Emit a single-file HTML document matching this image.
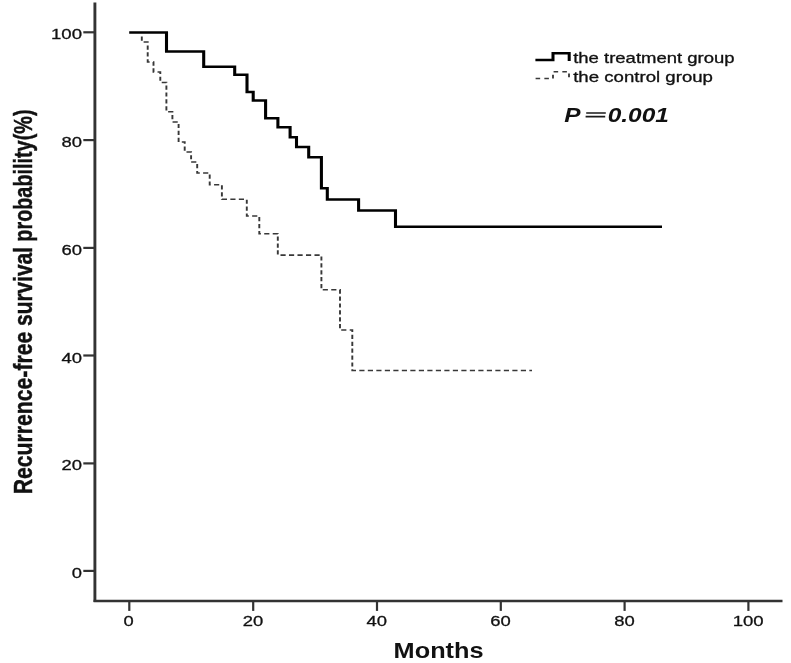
<!DOCTYPE html>
<html>
<head>
<meta charset="utf-8">
<title>Recurrence-free survival</title>
<style>
html,body{margin:0;padding:0;background:#fff;}
body{width:791px;height:663px;overflow:hidden;font-family:"Liberation Sans",sans-serif;}
svg{display:block;filter:blur(0.45px);}
text{font-family:"Liberation Sans",sans-serif;fill:#111;}
</style>
</head>
<body>
<svg width="791" height="663" viewBox="0 0 791 663">
<rect width="791" height="663" fill="#fff"/>
<!-- axes -->
<g stroke="#333" fill="none">
<line x1="94.9" y1="2.4" x2="94.9" y2="601.9" stroke-width="2.9"/>
<line x1="93.6" y1="600.9" x2="782.5" y2="600.9" stroke-width="2.5"/>
<!-- y ticks -->
<g stroke-width="2.2">
<line x1="83.3" y1="32.3" x2="94" y2="32.3"/>
<line x1="83.3" y1="140.1" x2="94" y2="140.1"/>
<line x1="83.3" y1="247.9" x2="94" y2="247.9"/>
<line x1="83.3" y1="355.5" x2="94" y2="355.5"/>
<line x1="83.3" y1="463.4" x2="94" y2="463.4"/>
<line x1="83.3" y1="570.9" x2="94" y2="570.9"/>
<!-- x ticks -->
<line x1="129.3" y1="601" x2="129.3" y2="610.9"/>
<line x1="253.2" y1="601" x2="253.2" y2="610.9"/>
<line x1="377.0" y1="601" x2="377.0" y2="610.9"/>
<line x1="500.8" y1="601" x2="500.8" y2="610.9"/>
<line x1="624.6" y1="601" x2="624.6" y2="610.9"/>
<line x1="748.4" y1="601" x2="748.4" y2="610.9"/>
</g>
</g>
<!-- y tick labels -->
<g font-size="15.2" text-anchor="end" stroke="#111" stroke-width="0.3">
<text x="82" y="39.1" textLength="31" lengthAdjust="spacingAndGlyphs">100</text>
<text x="82" y="146.7" textLength="20.5" lengthAdjust="spacingAndGlyphs">80</text>
<text x="82" y="255.4" textLength="20.5" lengthAdjust="spacingAndGlyphs">60</text>
<text x="82" y="362.9" textLength="20.5" lengthAdjust="spacingAndGlyphs">40</text>
<text x="82" y="470.4" textLength="20.5" lengthAdjust="spacingAndGlyphs">20</text>
<text x="82" y="578.1" textLength="10.2" lengthAdjust="spacingAndGlyphs">0</text>
</g>
<!-- x tick labels -->
<g font-size="15.2" text-anchor="middle" stroke="#111" stroke-width="0.3">
<text x="128.6" y="626.4" textLength="10.2" lengthAdjust="spacingAndGlyphs">0</text>
<text x="252.9" y="626.4" textLength="20.5" lengthAdjust="spacingAndGlyphs">20</text>
<text x="376.8" y="626.4" textLength="20.5" lengthAdjust="spacingAndGlyphs">40</text>
<text x="500.6" y="626.4" textLength="20.5" lengthAdjust="spacingAndGlyphs">60</text>
<text x="624.4" y="626.4" textLength="20.5" lengthAdjust="spacingAndGlyphs">80</text>
<text x="748.2" y="626.4" textLength="31" lengthAdjust="spacingAndGlyphs">100</text>
</g>
<!-- axis titles -->
<text x="438.6" y="658.3" font-size="21.3" font-weight="bold" text-anchor="middle" textLength="90" lengthAdjust="spacingAndGlyphs">Months</text>
<g id="ylab" transform="translate(31.6,494.3) rotate(-90) scale(1,1.268)" font-size="20.67" font-weight="bold" stroke="#111" stroke-width="0.35">
<text x="0" y="0" textLength="162.6" lengthAdjust="spacingAndGlyphs">Recurrence-free</text>
<text x="168.4" y="0" textLength="78.9" lengthAdjust="spacingAndGlyphs">survival</text>
<text x="252.6" y="0" textLength="132.2" lengthAdjust="spacingAndGlyphs">probability(%)</text>
</g>
<!-- control (dashed) -->
<g transform="scale(1.232,1)"><path id="ctrl" fill="none" stroke="#383838" stroke-width="1.55" stroke-dasharray="4.2 2.7" stroke-dashoffset="4.44"
 d="M115.10 34.00 V41.90 H119.89 V61.90 H124.59 V72.00 H130.11 V82.40 H135.06 V111.70 H139.94 V121.90 H144.97 V142.00 H149.92 V152.00 H155.11 V162.00 H160.06 V173.00 H170.21 V184.80 H180.11 V199.20 H200.32 V216.00 H210.47 V233.80 H225.49 V255.10 H260.88 V289.80 H275.97 V330.00 H285.96 V370.50 H431.82"/></g>
<!-- treatment (solid) -->
<g transform="scale(1.232,1)"><path id="trt" fill="none" stroke="#000" stroke-width="2.5" stroke-linejoin="miter"
 d="M104.87 32.6 H135.15 V51.5 H165.34 V66.8 H190.50 V74.7 H200.49 V92 H205.52 V100.4 H215.58 V118.2 H225.57 V127.3 H235.47 V137.2 H240.67 V147.1 H250.57 V157.3 H260.88 V188.3 H265.67 V199.4 H291.07 V210.4 H321.02 V226.8 H537.34"/></g>
<!-- legend -->
<g transform="scale(1.232,1)"><path fill="none" stroke="#000" stroke-width="2.45" d="M434.58 59.9 H448.86 V53.3 H462.01 V61"/>
<path fill="none" stroke="#3a3a3a" stroke-width="1.5" stroke-dasharray="3.7 3.4" d="M434.74 78.5 H448.86 V71.8 H461.85 V79"/></g>
<text x="573.2" y="63.2" font-size="14.3" stroke="#111" stroke-width="0.3" textLength="161.4" lengthAdjust="spacingAndGlyphs">the treatment group</text>
<text x="573.2" y="81.9" font-size="14.3" stroke="#111" stroke-width="0.3" textLength="139.8" lengthAdjust="spacingAndGlyphs">the control group</text>
<g font-size="19.8" font-weight="bold" font-style="italic">
<text x="564.3" y="121.6" textLength="16.3" lengthAdjust="spacingAndGlyphs">P</text>
<text x="607.7" y="121.6" textLength="61.2" lengthAdjust="spacingAndGlyphs">0.001</text>
</g>
<path fill="none" stroke="#1a1a1a" stroke-width="1.6" d="M586.2 113 H605.8 M585.6 116.6 H605.2"/>
</svg>
</body>
</html>
